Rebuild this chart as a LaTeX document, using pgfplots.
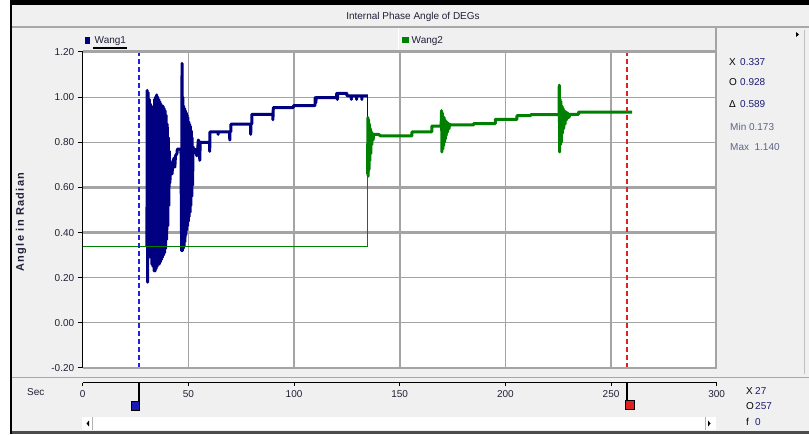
\documentclass[border=0pt]{standalone}
\usepackage{fontspec}
\setmainfont{Liberation Sans}
\usepackage{pgfplots}
\pgfplotsset{compat=1.18}
\definecolor{panelgray}{HTML}{F0F0F0}
\definecolor{sepgray}{HTML}{A8A8A8}
\definecolor{gridgray}{HTML}{A4A4A4}
\definecolor{navyw}{HTML}{000080}
\definecolor{greenw}{HTML}{008000}
\definecolor{curblue}{HTML}{2222DD}
\definecolor{curred}{HTML}{DD2222}
\definecolor{txt}{HTML}{202038}
\definecolor{valblue}{HTML}{1A1A70}
\definecolor{minmax}{HTML}{5A6488}
\begin{document}
\begin{tikzpicture}[x=1pt,y=1pt]
\useasboundingbox (0,0) rectangle (809,434);
% window background and frame
\fill[white] (0,0) rectangle (809,434);
\fill[panelgray] (12,3) rectangle (809,429);
\fill[black] (10,0) rectangle (12,434);
\fill[black] (10,429) rectangle (809,434);
\fill[black!70] (12,0) rectangle (809,3);
\draw[sepgray, line width=2pt] (12,406.5) -- (809,406.5);
\draw[white, line width=1pt] (398.5,384) -- (398.5,405.5);
\draw[sepgray, line width=1.5pt] (12,56.5) -- (809,56.5);
\draw[black!25, line width=0.8pt] (804,60) -- (804,404);
\fill[black] (796,402) -- (796,397) -- (799,399.5) -- cycle;
% title
\node[txt, font=\fontsize{10}{12}\selectfont] at (413,417) {Internal Phase Angle of DEGs};
% legend
\fill[navyw] (85,390) rectangle (90,396.7);
\node[txt, anchor=west, inner sep=0pt, font=\fontsize{10}{12}\selectfont] at (94.5,393.3) {Wang1};
\draw[black, line width=2.6pt] (93,386) -- (127,386);
\fill[greenw] (401.7,390.7) rectangle (408.7,396.7);
\node[txt, anchor=west, inner sep=0pt, font=\fontsize{10}{12}\selectfont] at (411.5,393.3) {Wang2};
% y label
\node[txt, rotate=90, font=\fontsize{11}{13}\selectfont\bfseries\addfontfeatures{LetterSpace=12}] at (21,212) {Angle in Radian};
% right panel
\begin{scope}[every node/.style={anchor=west, inner sep=0pt, font=\fontsize{10}{12}\selectfont}]
\node[black] at (729,371.7) {X};
\node[valblue] at (740,371.7) {0.337};
\node[black] at (729,351.7) {O};
\node[valblue] at (740,351.7) {0.928};
\node[black] at (729,330) {Δ};
\node[valblue] at (740,330) {0.589};
\node[minmax] at (730,307.3) {Min 0.173};
\node[minmax] at (730,286.7) {Max\ \ 1.140};
\node[txt] at (27,42) {Sec};
\node[black] at (746,43.3) {X};
\node[valblue] at (755,43.3) {27};
\node[black] at (746,28.3) {O};
\node[valblue] at (755,28.3) {257};
\node[black] at (746,12.3) {f};
\node[valblue] at (755,12.3) {0};
\end{scope}
% scrollbar
\fill[white] (81.7,4) rectangle (716,17.3);
\draw[black!30, line width=0.8pt] (92.5,4) -- (92.5,17.3);
\draw[black!30, line width=0.8pt] (705.5,4) -- (705.5,17.3);
\fill[black] (89,13.5) -- (89,7.5) -- (86.5,10.5) -- cycle;
\fill[black] (708,13.5) -- (708,7.5) -- (710.5,10.5) -- cycle;

% main plot
\begin{axis}[
  at={(82.7pt,66pt)}, anchor=south west,
  scale only axis, width=634pt, height=316pt,
  xmin=0, xmax=300, ymin=-0.2, ymax=1.2,
  axis background/.style={fill=white},
  axis x line*=bottom, x axis line style={draw=none},
  axis y line*=left, y axis line style={-, black, line width=1.4pt},
  xtick={50,100,150,200,250}, xticklabels={}, xtick style={draw=none},
  ytick={-0.2,0,0.2,0.4,0.6,0.8,1.0,1.2},
  ytick align=outside, major tick length=5pt,
  ytick style={black, line width=1pt},
  xmajorgrids, ymajorgrids,
  grid style={gridgray, line width=1pt},
  x grid style={line width=1.7pt},
  yticklabel style={txt, font=\fontsize{10}{12}\selectfont},
  /pgf/number format/.cd, fixed, fixed zerofill, precision=2, assume math mode=true,
]
\draw[gridgray, line width=2.6pt] (axis cs:0,0.6) -- (axis cs:300,0.6);
\draw[gridgray, line width=2.2pt] (axis cs:0,0.4) -- (axis cs:300,0.4);
% Wang1
\addplot[navyw, line width=1pt] coordinates {(0,0.337) (30.4,0.337)};
\addplot[navyw, line width=3pt, line join=round] coordinates {
(30.4,0.337)
(30.50,1.03) (30.75,0.18) (31.00,1.02) (31.25,0.31) (31.50,0.99) (31.75,0.32)
(32.00,0.97) (32.25,0.29) (32.50,0.94) (32.75,0.26) (33.00,0.93) (33.25,0.25)
(33.50,0.96) (33.75,0.23) (34.00,0.99) (34.25,0.23) (34.50,1.00) (34.75,0.24)
(35.00,1.01) (35.25,0.25) (35.50,1.00) (35.75,0.26) (36.00,0.99) (36.25,0.26)
(36.50,0.98) (36.75,0.27) (37.00,0.97) (37.25,0.28) (37.50,0.96) (37.75,0.29)
(38.00,0.96) (38.25,0.30) (38.50,0.95) (38.75,0.31) (39.00,0.94) (39.25,0.33)
(39.50,0.92) (39.75,0.37) (40.00,0.88) (40.25,0.43) (40.50,0.82) (40.75,0.52)
(41.00,0.76) (41.25,0.62) (41.5,0.68) (42.0,0.70) (42.3,0.66) (42.6,0.71)
(43.2,0.73) (43.6,0.69) (43.9,0.74) (44.6,0.75) (44.8,0.77) (46.5,0.77)
(46.8,0.32) (47.0,1.15) (47.2,0.32) (47.4,1.00) (47.6,0.33) (47.8,0.96)
(48.0,0.34) (48.2,0.95) (48.4,0.36) (48.6,0.94) (48.8,0.39) (49.0,0.93)
(49.2,0.41) (49.4,0.92) (49.6,0.43) (49.8,0.91) (50.0,0.45) (50.2,0.89)
(50.4,0.47) (50.6,0.88) (50.8,0.49) (51.0,0.87) (51.2,0.52) (51.4,0.85)
(51.6,0.56) (51.8,0.82) (52.0,0.61) (52.2,0.78) (52.4,0.75)
(53.0,0.77) (53.6,0.76) (54.0,0.74) (54.5,0.78) (54.7,0.81) (55.2,0.80)
(55.4,0.72) (55.6,0.80) (60.0,0.80) (60.1,0.76) (60.2,0.846) (64.0,0.846)
(64.1,0.835) (64.2,0.846) (69.5,0.846) (69.6,0.81) (69.7,0.846) (70.1,0.846)
(70.1,0.88) (79.4,0.88) (79.5,0.835) (79.6,0.88) (80.0,0.88) (80.0,0.924)
(89.9,0.924) (90.0,0.90) (90.2,0.954) (99.7,0.954) (99.7,0.962) (109.9,0.962)
(110.0,0.998) (110.3,0.975) (110.5,0.998) (120.2,0.998) (120.2,1.017)
(120.5,0.99) (120.7,1.017) (125.0,1.017) (125.0,1.006) (127.0,1.006)
(127.1,0.99) (127.2,1.006) (129.5,1.006) (129.6,0.99) (129.7,1.006)
(132.0,1.006) (132.1,0.99) (132.2,1.006) (134.9,1.006)
};
\addplot[navyw, line width=1pt] coordinates {(134.9,1.006) (134.9,0.91)};
% Wang2
\addplot[greenw, line width=1pt] coordinates {(0,0.337) (134.8,0.337) (134.8,0.66)};
\addplot[greenw, line width=3pt, line join=round] coordinates {
(134.8,0.66) (134.95,0.91) (135.1,0.65) (135.3,0.90) (135.5,0.68) (135.7,0.88)
(135.9,0.72) (136.1,0.86) (136.3,0.75) (136.5,0.85) (136.8,0.79) (137.1,0.84)
(137.4,0.81) (137.7,0.835) (140,0.835) (141,0.828) (155.8,0.828) (155.8,0.846)
(165.2,0.846) (165.2,0.872) (169.6,0.872)
(169.8,0.94) (170.0,0.757) (170.2,0.93) (170.4,0.77) (170.6,0.915) (170.8,0.785)
(171.0,0.91) (171.2,0.80) (171.4,0.90) (171.6,0.815) (171.8,0.895) (172.0,0.83)
(172.3,0.89) (172.6,0.845) (172.9,0.885) (173.3,0.86) (173.7,0.88) (174,0.877)
(185,0.877) (185,0.883) (195.3,0.883) (195.3,0.902) (205.5,0.902) (205.5,0.918)
(212,0.918) (212,0.922) (225.4,0.922)
(225.5,1.053) (225.7,0.757) (225.9,0.99) (226.1,0.79) (226.3,0.98) (226.5,0.80)
(226.8,0.96) (227.0,0.84) (227.3,0.95) (227.6,0.86) (227.9,0.94) (228.2,0.88)
(228.6,0.935) (229.0,0.90) (229.5,0.93) (230.0,0.91) (230.8,0.924) (234.7,0.924)
(234.7,0.934) (260,0.934)
};
% cursors
\addplot[curblue, line width=1.7pt, dash pattern=on 5pt off 3pt] coordinates {(26.6,-0.2) (26.6,1.2)};
\addplot[curred, line width=1.7pt, dash pattern=on 5pt off 3pt] coordinates {(257.6,-0.2) (257.6,1.2)};
\end{axis}
% plot borders
\draw[gridgray, line width=2.6pt] (82.7,382.5) -- (716.7,382.5);
\draw[gridgray, line width=1.5pt] (82.7,66) -- (716.7,66);
\draw[gridgray, line width=2pt] (716.2,65.5) -- (716.2,406);

% time axis strip
\begin{axis}[
  at={(82.7pt,51.3pt)}, anchor=south west,
  scale only axis, width=634pt, height=20pt,
  xmin=0, xmax=300, ymin=0, ymax=20,
  hide y axis, clip=false,
  axis x line*=bottom, x axis line style={-, black, line width=1.3pt},
  xtick={0,50,100,150,200,250,300},
  xtick align=outside, major tick length=3.5pt,
  xtick style={black, line width=1pt},
  xticklabel style={txt, font=\fontsize{10}{12}\selectfont, yshift=-1pt},
  /pgf/number format/assume math mode=true,
]
\addplot[black, line width=1.3pt] coordinates {(26.6,0) (26.6,-27.5)};
\addplot[only marks, mark=square*, mark size=4.4pt, mark options={fill=curblue!80!black, draw=black, line width=0.8pt}] coordinates {(24.9,-23.1)};
\addplot[black, line width=1.3pt] coordinates {(257.6,0) (257.6,-18)};
\addplot[only marks, mark=square*, mark size=4.4pt, mark options={fill=curred, draw=black, line width=0.8pt}] coordinates {(259.0,-21.8)};
\node[white, font=\fontsize{6}{6}\selectfont\bfseries] at (axis cs:24.9,-23.1) {x};
\node[white, font=\fontsize{6}{6}\selectfont\bfseries] at (axis cs:259.0,-21.8) {o};
\end{axis}
\end{tikzpicture}
\end{document}
